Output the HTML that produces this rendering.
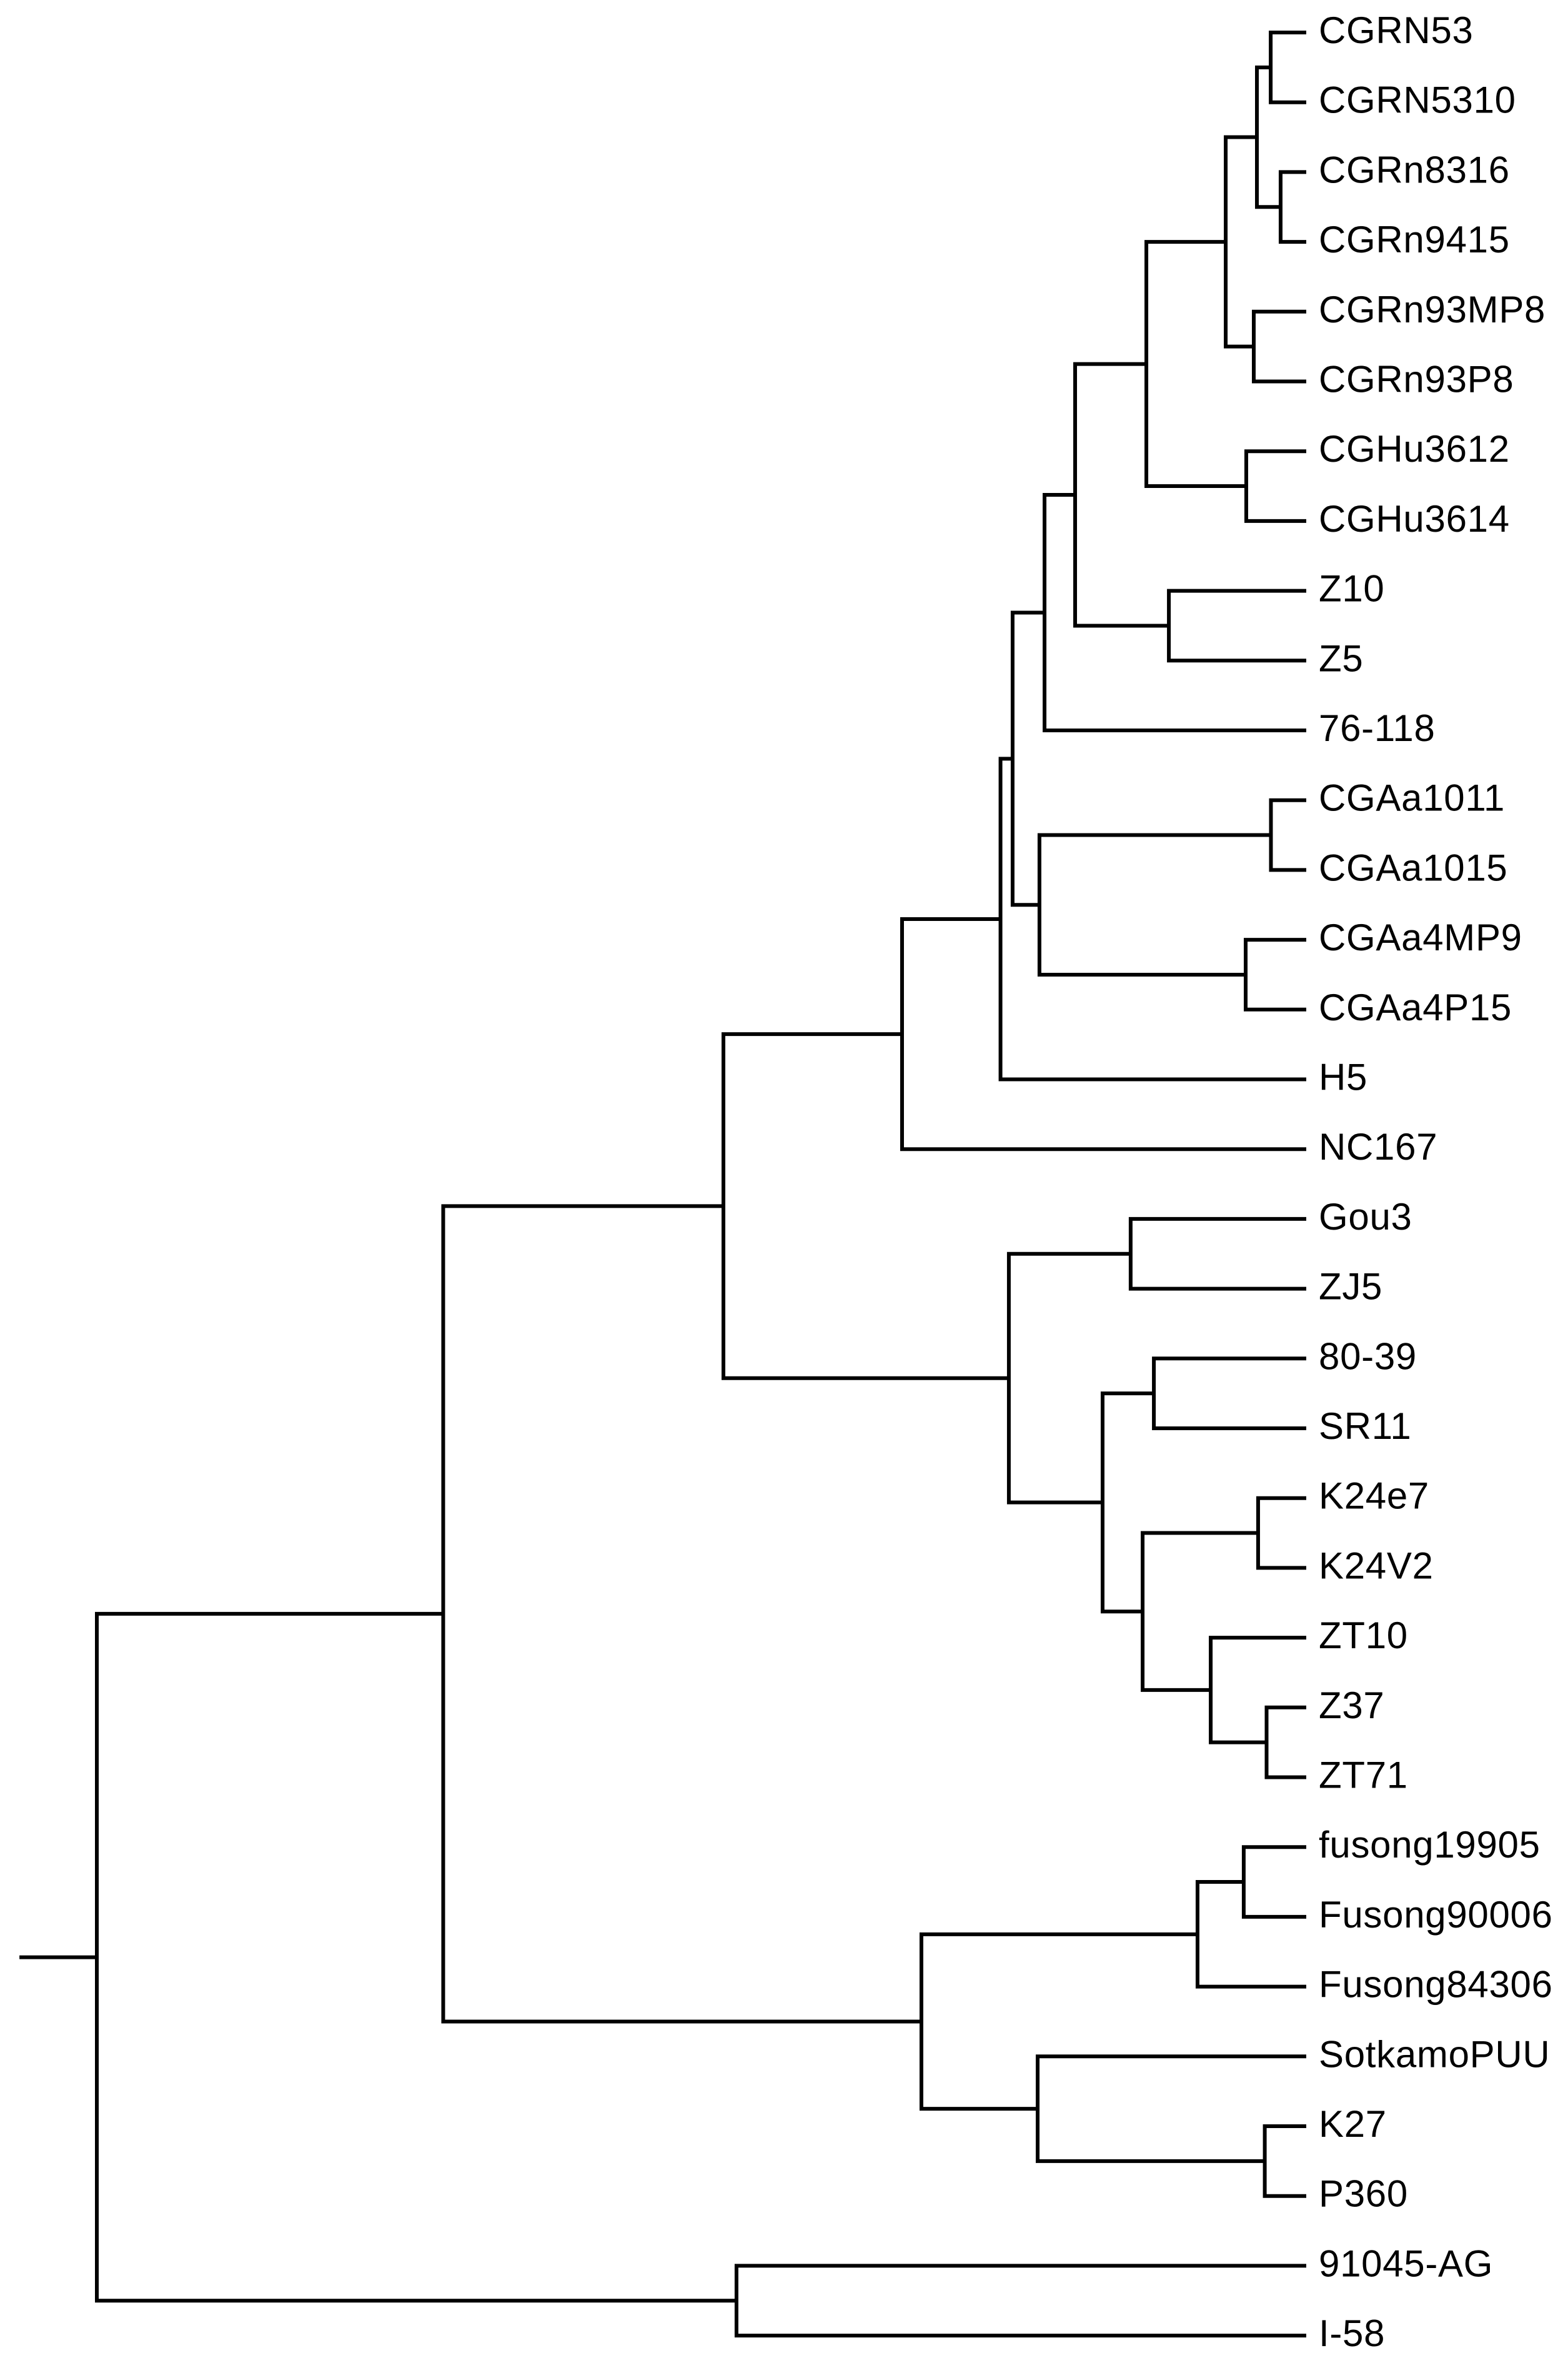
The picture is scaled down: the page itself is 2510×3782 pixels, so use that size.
<!DOCTYPE html>
<html lang="en">
<head>
<meta charset="utf-8">
<title>Phylogenetic tree</title>
<style>
html,body{margin:0;padding:0;background:#fff;width:2510px;height:3782px;overflow:hidden}
svg{display:block}
text{font-family:"Liberation Sans",Arial,sans-serif;font-size:60px;letter-spacing:0.7px;fill:#000}
path,line{fill:none;stroke:#000;stroke-width:6;stroke-linejoin:miter;stroke-linecap:butt}
</style>
</head>
<body>
<svg id="tree" xmlns="http://www.w3.org/2000/svg" width="2510" height="3782" viewBox="0 0 2510 3782"></svg>
<script>
// Taxa, top to bottom
const leafLabels = ["CGRN53","CGRN5310","CGRn8316","CGRn9415","CGRn93MP8","CGRn93P8","CGHu3612","CGHu3614","Z10","Z5","76-118","CGAa1011","CGAa1015","CGAa4MP9","CGAa4P15","H5","NC167","Gou3","ZJ5","80-39","SR11","K24e7","K24V2","ZT10","Z37","ZT71","fusong19905","Fusong90006","Fusong84306","SotkamoPUU","K27","P360","91045-AG","I-58"];
// Internal nodes, children before parents
const nodeIds = ["n1","n2","n3","n4","n5","n6","n7","n8","n9","n10","n11","n12","n13","n14","n15","n16","n17","n18","n19","n20","n21","n22","n23","n24","n25","n26","n27","n28","n29","n30","n31","n32","root"];
const nodeFirstChild = ["CGRN53","CGRn8316","n1","CGRn93MP8","n3","CGHu3612","n5","Z10","n7","n9","CGAa1011","CGAa4MP9","n11","n10","n14","n15","Gou3","80-39","K24e7","Z37","ZT10","n19","n18","n17","n16","fusong19905","n26","K27","SotkamoPUU","n27","n25","91045-AG","n31"];
const nodeSecondChild = ["CGRN5310","CGRn9415","n2","CGRn93P8","n4","CGHu3614","n6","Z5","n8","76-118","CGAa1015","CGAa4P15","n12","n13","H5","NC167","ZJ5","SR11","K24V2","ZT71","n20","n21","n22","n23","n24","Fusong90006","Fusong84306","P360","n28","n29","n30","I-58","n32"];
// Distance of each internal node from the root (tips = 100)
const nodeDistances = [97.06,97.88,95.92,95.66,93.34,95.04,86.78,88.64,80.89,78.36,97.08,94.99,77.94,75.72,74.72,66.58,85.48,87.40,96.02,96.72,92.10,86.47,83.16,75.41,51.81,94.83,91.01,96.57,77.79,68.18,28.64,52.89,0];
const tipDistance = 100;
const rootStemDistance = -6.40;

const svgNS = "http://www.w3.org/2000/svg";
const svg = document.getElementById("tree");
function xScale(d){ return 155 + d * 19.36; }
function rowScale(i){ return 52 + i * 111.7; }

const posX = {}, posY = {};
leafLabels.forEach(function(name, i){
  posX[name] = xScale(tipDistance);
  posY[name] = rowScale(i);
});
nodeIds.forEach(function(id, i){
  posX[id] = xScale(nodeDistances[i]);
  posY[id] = (posY[nodeFirstChild[i]] + posY[nodeSecondChild[i]]) / 2;
});

nodeIds.forEach(function(id, i){
  const a = nodeFirstChild[i], b = nodeSecondChild[i];
  const p = document.createElementNS(svgNS, "path");
  p.setAttribute("d", "M" + posX[a] + " " + posY[a] + "H" + posX[id] + "V" + posY[b] + "H" + posX[b]);
  
  
  svg.appendChild(p);
});

const stem = document.createElementNS(svgNS, "line");
stem.setAttribute("x1", xScale(rootStemDistance));
stem.setAttribute("x2", posX.root);
stem.setAttribute("y1", posY.root);
stem.setAttribute("y2", posY.root);


svg.appendChild(stem);

leafLabels.forEach(function(name){
  const t = document.createElementNS(svgNS, "text");
  t.setAttribute("x", posX[name] + 20);
  t.setAttribute("y", posY[name] + 17);
  t.textContent = name;
  
  
  svg.appendChild(t);
});
</script>
</body>
</html>
